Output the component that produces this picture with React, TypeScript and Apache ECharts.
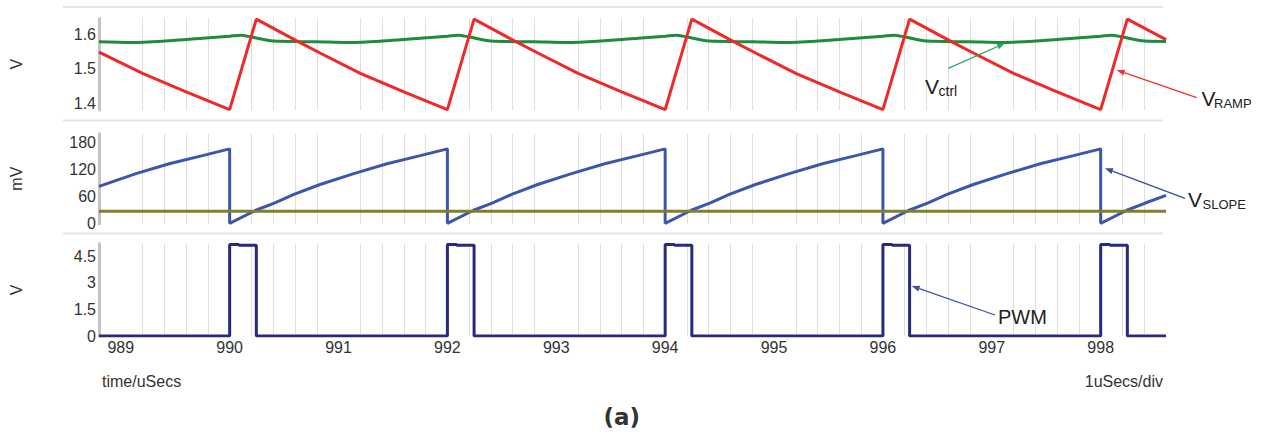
import React, { useEffect, useRef } from 'react';
import * as echarts from 'echarts';

// ---------- data (time in µs) ----------
const X_MIN = 988.8;
const X_MAX = 998.6;
const X_TICK_LABELS = [989, 990, 991, 992, 993, 994, 995, 996, 997, 998];

const Y1_LABELS = [1.4, 1.5, 1.6];
const Y2_LABELS = [0, 60, 120, 180];
const Y3_LABELS = [0, 1.5, 3, 4.5];

// V_RAMP (V)
const V_RAMP: [number, number][] = [
  [988.8, 1.548], [989.2, 1.487], [989.6, 1.434], [990.0, 1.383],
  [990.245, 1.643], [990.62, 1.58], [990.835, 1.545], [991.2, 1.487], [991.6, 1.434], [992.0, 1.383],
  [992.245, 1.643], [992.62, 1.58], [992.835, 1.545], [993.2, 1.487], [993.6, 1.434], [994.0, 1.383],
  [994.245, 1.643], [994.62, 1.58], [994.835, 1.545], [995.2, 1.487], [995.6, 1.434], [996.0, 1.383],
  [996.245, 1.643], [996.62, 1.58], [996.835, 1.545], [997.2, 1.487], [997.6, 1.434], [998.0, 1.383],
  [998.245, 1.643], [998.6, 1.584],
];

// V_ctrl (V)
const V_CTRL: [number, number][] = [
  [988.8, 1.578], [989.1, 1.576], [989.4, 1.58], [989.75, 1.588],
  [990.0, 1.594], [990.1, 1.597], [990.2, 1.592], [990.4, 1.58], [990.8, 1.578], [991.1, 1.576], [991.4, 1.58], [991.75, 1.588],
  [992.0, 1.594], [992.1, 1.597], [992.2, 1.592], [992.4, 1.58], [992.8, 1.578], [993.1, 1.576], [993.4, 1.58], [993.75, 1.588],
  [994.0, 1.594], [994.1, 1.597], [994.2, 1.592], [994.4, 1.58], [994.8, 1.578], [995.1, 1.576], [995.4, 1.58], [995.75, 1.588],
  [996.0, 1.594], [996.1, 1.597], [996.2, 1.592], [996.4, 1.58], [996.8, 1.578], [997.1, 1.576], [997.4, 1.58], [997.75, 1.588],
  [998.0, 1.594], [998.1, 1.597], [998.2, 1.592], [998.4, 1.58], [998.6, 1.579],
];

// V_SLOPE (mV)
const V_SLOPE: [number, number][] = [
  [988.8, 83], [989.14, 111], [989.445, 133], [989.75, 151], [990.0, 166], [990.0, 1],
  [990.24, 30], [990.41, 46], [990.59, 65], [990.83, 87], [991.14, 111], [991.445, 133], [991.75, 151], [992.0, 166], [992.0, 1],
  [992.24, 30], [992.41, 46], [992.59, 65], [992.83, 87], [993.14, 111], [993.445, 133], [993.75, 151], [994.0, 166], [994.0, 1],
  [994.24, 30], [994.41, 46], [994.59, 65], [994.83, 87], [995.14, 111], [995.445, 133], [995.75, 151], [996.0, 166], [996.0, 1],
  [996.24, 30], [996.41, 46], [996.59, 65], [996.83, 87], [997.14, 111], [997.445, 133], [997.75, 151], [998.0, 166], [998.0, 1],
  [998.24, 30], [998.41, 46], [998.6, 63],
];

// constant threshold (mV)
const V_LEVEL: [number, number][] = [[988.8, 28], [998.6, 28]];

// PWM (V)
const PWM: [number, number][] = [
  [988.8, 0],
  [990.0, 0], [990.0, 5.15], [990.085, 5.15], [990.085, 5.11], [990.245, 5.11], [990.245, 0],
  [992.0, 0], [992.0, 5.15], [992.085, 5.15], [992.085, 5.11], [992.245, 5.11], [992.245, 0],
  [994.0, 0], [994.0, 5.15], [994.085, 5.15], [994.085, 5.11], [994.245, 5.11], [994.245, 0],
  [996.0, 0], [996.0, 5.15], [996.085, 5.15], [996.085, 5.11], [996.245, 5.11], [996.245, 0],
  [998.0, 0], [998.0, 5.15], [998.085, 5.15], [998.085, 5.11], [998.245, 5.11], [998.245, 0],
  [998.6, 0],
];

// ---------- styling ----------
const FONT = '"Liberation Sans", Arial, Helvetica, sans-serif';
const TEXT = '#333';
const GRID_LINE = '#dedede';
const AXIS_LINE = '#c4c4c4';
const SEP = '#e6e6e6';

const GRID_LEFT = 97.8;
const GRID_WIDTH = 1068.2;

function xAxis(gridIndex: number, labels: boolean) {
  return {
    type: 'value',
    gridIndex,
    min: X_MIN,
    max: X_MAX,
    interval: 0.2,
    axisLine: { show: false },
    axisTick: { show: false },
    axisLabel: {
      show: labels,
      margin: 3,
      fontSize: 16,
      color: TEXT,
      fontFamily: FONT,
      formatter: (v: number) => {
        const r = Math.round(v);
        return Math.abs(v - r) < 1e-6 && X_TICK_LABELS.indexOf(r) >= 0 ? String(r) : '';
      },
    },
    splitLine: {
      show: true,
      showMaxLine: false,
      lineStyle: { color: [GRID_LINE, 'rgba(0,0,0,0)', GRID_LINE, GRID_LINE, GRID_LINE], width: 1 },
    },
  };
}

function yAxis(gridIndex: number, min: number, max: number, labels: number[], name: string, fmt: (v: number) => string) {
  return {
    type: 'value',
    gridIndex,
    min,
    max,
    name,
    nameLocation: 'middle',
    nameRotate: 90,
    nameGap: 75,
    nameTextStyle: { fontSize: 16, color: TEXT, fontFamily: FONT },
    axisLine: { show: true, lineStyle: { color: AXIS_LINE, width: 3 } },
    axisTick: { show: false },
    splitLine: { show: false },
    axisLabel: {
      customValues: labels,
      margin: 3,
      fontSize: 16,
      color: TEXT,
      fontFamily: FONT,
      formatter: fmt,
    },
  };
}

function arrow(x1: number, y1: number, x2: number, y2: number, color: string) {
  const dx = x2 - x1;
  const dy = y2 - y1;
  const L = Math.hypot(dx, dy);
  const ux = dx / L;
  const uy = dy / L;
  const hl = 8;
  const hw = 3;
  const bx = x2 - ux * hl;
  const by = y2 - uy * hl;
  return [
    { type: 'line', z: 100, shape: { x1, y1, x2: bx, y2: by }, style: { stroke: color, lineWidth: 1.3 } },
    {
      type: 'polygon',
      z: 100,
      shape: { points: [[x2, y2], [bx - uy * hw, by + ux * hw], [bx + uy * hw, by - ux * hw]] },
      style: { fill: color },
    },
  ];
}

function txt(x: number, y: number, text: string, size: number, align = 'left', extra: any = {}) {
  return {
    type: 'text',
    z: 100,
    x,
    y,
    style: {
      text,
      fontSize: size,
      fontFamily: FONT,
      fill: '#222',
      align,
      verticalAlign: 'middle',
      ...extra,
    },
  };
}

function sep(y: number) {
  return { type: 'line', z: 1, shape: { x1: 63, y1: y, x2: 1163, y2: y }, style: { stroke: SEP, lineWidth: 2 } };
}

function lineSeries(name: string, data: [number, number][], color: string, axis: number, z: number, smooth: number | boolean = false) {
  return {
    name,
    type: 'line',
    xAxisIndex: axis,
    yAxisIndex: axis,
    data,
    showSymbol: false,
    symbol: 'none',
    smooth,
    z,
    lineStyle: { color, width: 3 },
    itemStyle: { color },
  };
}

export default function App() {
  const ref = useRef<HTMLDivElement>(null);
  useEffect(() => {
    document.body.style.margin = '0';
    const chart = echarts.init(ref.current!, undefined, { renderer: 'svg' });
    const option: any = {
      animation: false,
      backgroundColor: '#ffffff',
      grid: [
        { left: GRID_LEFT, width: GRID_WIDTH, top: 18.5, height: 91.4 },
        { left: GRID_LEFT, width: GRID_WIDTH, top: 133.5, height: 90.3 },
        { left: GRID_LEFT, width: GRID_WIDTH, top: 243.6, height: 92.4 },
      ],
      xAxis: [xAxis(0, false), xAxis(1, false), xAxis(2, true)],
      yAxis: [
        yAxis(0, 1.382, 1.645, Y1_LABELS, 'V', (v) => v.toFixed(1)),
        yAxis(1, 0, 200, Y2_LABELS, 'mV', (v) => String(Math.round(v))),
        yAxis(2, 0, 5.2, Y3_LABELS, 'V', (v) => String(v)),
      ],
      series: [
        lineSeries('Vctrl', V_CTRL, '#1e8c3c', 0, 3, 0.3),
        lineSeries('VRAMP', V_RAMP, '#f02828', 0, 4),
        lineSeries('VSLOPE', V_SLOPE, '#3c56ae', 1, 3),
        lineSeries('Vlevel', V_LEVEL, '#7f7f2c', 1, 4),
        lineSeries('PWM', PWM, '#272a80', 2, 3),
      ],
      graphic: [
        sep(7),
        sep(120.5),
        sep(233.5),
        ...arrow(948.3, 68.3, 1005, 43.3, '#2ea35e'),
        txt(925, 86.5, 'V', 21),
        txt(938.5, 91, 'ctrl', 14),
        ...arrow(1196.7, 97.7, 1116.7, 70, '#ea3434'),
        txt(1201.5, 98.5, 'V', 21),
        txt(1214, 103, 'RAMP', 13),
        ...arrow(1185, 198.3, 1105, 168.3, '#3a4aa8'),
        txt(1188, 199.5, 'V', 21),
        txt(1202.5, 204.7, 'SLOPE', 13),
        ...arrow(995, 315, 911.7, 286, '#4050b0'),
        txt(998, 316.5, 'PWM', 20),
        txt(102, 381.7, 'time/uSecs', 16, 'left', { fill: TEXT }),
        txt(1163, 381.7, '1uSecs/div', 16, 'right', { fill: TEXT }),
        txt(621.7, 417, '(a)', 23, 'center', { fontFamily: '"DejaVu Sans", sans-serif', fontWeight: 'bold', fill: '#333' }),
      ],
    };
    chart.setOption(option);
    return () => chart.dispose();
  }, []);
  return <div ref={ref} style={{ position: 'absolute', left: 0, top: 0, width: 1263, height: 439 }} />;
}
